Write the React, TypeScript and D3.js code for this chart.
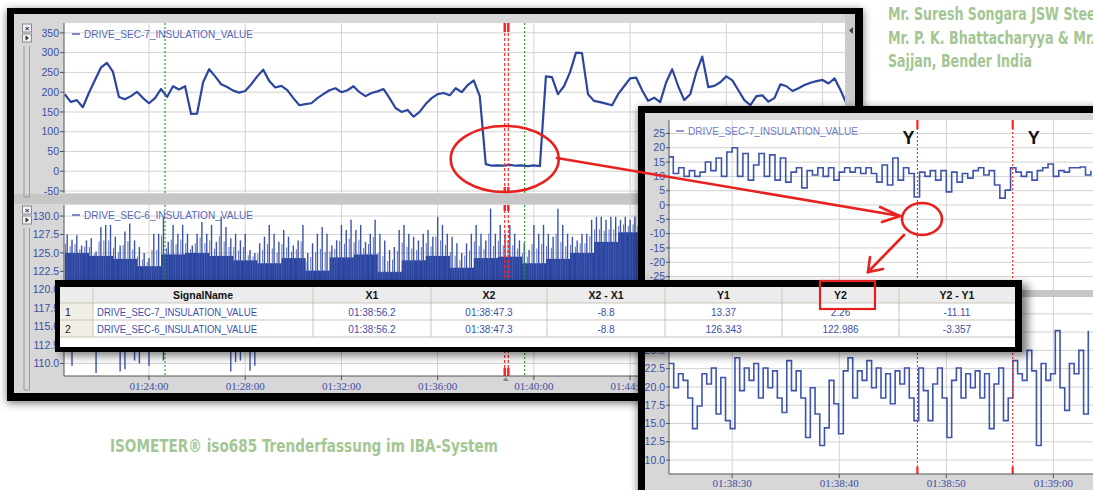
import React from "react";
import * as d3 from "d3";

// ---------- DATA ----------
const overviewStart = "01:20:30";
const overviewEnd = "01:52:56";
const sec7OverviewStepSec = 15;
const sec7Overview = [
  195, 175, 180, 162, 198, 230, 262, 274, 252, 188, 182, 190, 201, 185, 172, 185, 208, 188, 215, 207,
  215, 145, 146, 225, 258, 240, 220, 213, 204, 199, 203, 220, 240, 257, 228, 212, 216, 205, 185, 167,
  170, 172, 185, 195, 205, 210, 200, 205, 215, 200, 190, 198, 202, 208, 185, 160, 150, 155, 138, 150,
  170, 185, 195, 198, 192, 210, 200, 218, 230, 190, 18, 14, 15, 14, 16, 14, 15, 13, 15, 13,
  240, 238, 195, 215, 250, 300, 299, 195, 178, 175, 171, 167, 195, 215, 235, 237, 205, 178, 186, 175,
  225, 258, 215, 180, 195, 250, 290, 213, 216, 225, 240, 230, 205, 180, 167, 190, 192, 176, 185, 220,
  215, 203, 210, 218, 224, 228, 231, 222, 235, 205, 170,
];

const sec6BinSec = 12;
const sec6Max = [
  127.5, 126.8, 127.4, 126.0, 126.7, 127.0, 125.2, 128.5, 128.8, 128.8,
  127.2, 126.0, 127.9, 129.0, 126.7, 125.8, 125.0, 124.3, 127.6, 127.6,
  129.9, 126.5, 128.8, 127.6, 128.8, 127.6, 126.0, 127.6, 129.2, 127.6,
  128.8, 126.5, 129.9, 128.5, 127.0, 127.6, 126.7, 127.6, 125.4, 125.0,
  126.3, 127.2, 128.8, 127.6, 126.5, 128.1, 127.2, 126.0, 126.7, 128.8,
  125.0, 126.3, 127.6, 128.5, 127.6, 126.0, 126.7, 128.8, 128.1, 129.5,
  128.1, 128.8, 126.5, 127.6, 129.5, 127.6, 126.7, 125.4, 125.8, 128.1,
  128.8, 127.6, 127.2, 126.7, 127.6, 128.1, 127.2, 129.9, 128.8, 127.6,
  127.2, 126.3, 125.0, 126.3, 127.6, 128.8, 127.6, 126.7, 131.0, 127.6,
  128.8, 127.6, 128.8, 127.6, 126.7, 126.3, 125.4, 128.8, 127.6, 128.8,
  127.6, 127.2, 131.0, 128.8, 127.6, 127.2, 126.7, 127.6, 127.6, 129.5,
  129.9, 129.9, 129.5, 129.9, 129.9, 129.5, 129.9, 129.5, 129.9, 129.5,
];
const sec6Min = [
  119, 109.7, 119, 119, 119, 119, 108.7, 119, 119, 119,
  119, 108.9, 109.2, 119, 110.4, 110.0, 119, 109.7, 119, 119,
  110.4, 119, 119, 119, 119, 119, 119, 119, 119, 119,
  119, 119, 119, 119, 108.9, 110.2, 110.4, 119, 109.0, 109.7,
  119, 119, 119, 119, 119, 119, 119, 119, 119, 119,
  119, 119, 119, 119, 119, 119, 119, 119, 119, 119,
  119, 119, 119, 119, 119, 119, 119, 119, 119, 119,
  119, 119, 119, 119, 119, 119, 119, 119, 119, 119,
  119, 119, 111.6, 119, 119, 119, 119, 119, 119, 119,
  119, 119, 119, 119, 119, 119, 119, 119, 119, 119,
  119, 119, 119, 119, 119, 119, 119, 119, 119, 119,
  119, 119, 119, 119, 119, 119, 119, 119, 119, 119,
];
const sec6CoreMinuteTop = [
  125.0, 124.6, 124.2, 123.2, 124.8, 125.0, 124.6, 124.0, 123.6, 124.3, 122.6, 124.4,
  124.8, 122.4, 124.0, 124.6, 123.0, 124.3, 124.5, 123.6, 124.2, 125.0, 126.5, 127.8,
];
const sec6BandLow = 118.5;

const overviewTimeTicks = ["01:24:00", "01:28:00", "01:32:00", "01:36:00", "01:40:00", "01:44:00", "01:48:00", "01:52:00"];
const sec7OverviewTicks = [350, 300, 250, 200, 150, 100, 50, 0, -50];
const sec6OverviewTicks = [130, 127.5, 125, 122.5, 120, 117.5, 115, 112.5, 110];
const greenMarkers = ["01:24:40", "01:39:37"];
const cursorTimes = ["01:38:47.3", "01:38:56.2"];

const detailStart = "01:38:24";
const detailEnd = "01:39:03.7";
const sec7DetailStepSec = 0.5;
const sec7Detail = [
  16.8, 11, 13, 10, 12, 10, 11.5, 15, 12, 16.4, 10, 18.5, 20, 10, 18, 8.7, 14, 18, 10, 17.5,
  8.7, 16.4, 8, 11.5, 13, 6, 12, 10.5, 13, 10, 13, 8.7, 11.5, 13, 11.5, 13, 11, 13, 11, 8,
  14, 7, 16.4, 8.7, 13, 11, 2.8, 11.5, 10, 12, 8.7, 12, 4.6, 11.5, 8, 11, 9.4, 12, 13, 10.5,
  12, 7, 2.4, 5.2, 13, 11.5, 10, 11.5, 8.7, 12, 13, 14.3, 10, 12, 11.5, 13, 13, 13.3, 10.5, 12,
];
const sec6DetailStepSec = 0.44;
const sec6Detail = [
  23.2, 19.9, 21.8, 20.9, 18.5, 14.3, 17.4, 21.8, 20.4, 22.6, 16.3, 21.3, 15.4, 14.3, 24, 19.5, 22.6, 20.9,
  23.2, 18.5, 22.6, 19.9, 22.2, 18.5, 16.5, 23.6, 19.5, 22.2, 18.5, 13.1, 19.9, 16.3, 12, 14.4, 20.9, 17.7,
  13.6, 22.2, 24, 18.5, 22.2, 20.9, 23.6, 19.9, 22.6, 18.5, 21.8, 17.7, 22.2, 20.4, 22.6, 18.5, 15.4, 22.6,
  19.5, 15.4, 20.4, 22.6, 18.5, 13.1, 20.9, 22.6, 18.5, 21.8, 19.9, 22.2, 18.5, 21.8, 14.3, 20.4, 22.6, 15.4,
  18.5, 23.6, 21.8, 20.9, 25, 22.2, 12, 23.2, 20.9, 21.8, 27.7, 19.9, 16.8, 23.2, 21.8, 25, 16.3, 27.7,
];
const detailTimeTicks = ["01:38:30", "01:38:40", "01:38:50", "01:39:00"];
const sec7DetailTicks = [25, 20, 15, 10, 5, 0, -5, -10, -15, -20, -25];
const sec6DetailTicks = [10, 12.5, 15, 17.5, 20, 22.5, 25, 27.5, 30];

const tableColumns = ["SignalName", "X1", "X2", "X2 - X1", "Y1", "Y2", "Y2 - Y1"];
const tableRows = [
  ["DRIVE_SEC-7_INSULATION_VALUE", "01:38:56.2", "01:38:47.3", "-8.8", "13.37", "2.26", "-11.11"],
  ["DRIVE_SEC-6_INSULATION_VALUE", "01:38:56.2", "01:38:47.3", "-8.8", "126.343", "122.986", "-3.357"],
];
const sec7Name = "DRIVE_SEC-7_INSULATION_VALUE";
const sec6Name = "DRIVE_SEC-6_INSULATION_VALUE";
const authorLines = ["Mr. Suresh Songara JSW Steel", "Mr. P. K. Bhattacharyya & Mr.", "Sajjan, Bender India"];
const caption = "ISOMETER\u00AE iso685 Trenderfassung im IBA-System";

// ---------- helpers ----------
const toDate = (s: string) => {
  const [h, m, sec] = s.split(":");
  return new Date(2000, 0, 1, +h, +m, 0, Math.round(parseFloat(sec) * 1000));
};
const addSec = (d: Date, s: number) => new Date(d.getTime() + s * 1000);
const fmt = d3.timeFormat("%H:%M:%S");

const SANS = "'Liberation Sans', Arial, sans-serif";
const SERIF = "'Liberation Serif', 'Times New Roman', serif";
const AXIS_TXT = "#3b4ea6";
const LINE = "#2c46a0";
const GRID = "#d2d2d2";
const PANEL = "#d7d7d7";
const BAND = "#c6c6c6";
const RED = "#ff2424";
const GREEN_TXT = "#a4c693";

export default function App() {
  // overview scales
  const t0O = toDate(overviewStart);
  const xO = d3.scaleTime().domain([t0O, toDate(overviewEnd)]).range([64.8, 845]);
  const yO7 = d3.scaleLinear().domain([-55, 375]).range([193, 23]);
  const yO6 = d3.scaleLinear().domain([108.3, 131.5]).range([376, 205]);
  // detail scales
  const t0D = toDate(detailStart);
  const xD = d3.scaleTime().domain([toDate("01:38:24.1"), toDate(detailEnd)]).range([669, 1093]);
  const yD7 = d3.scaleLinear().domain([-29.7, 29.7]).range([290, 120]);
  const yD6 = d3.scaleLinear().domain([8.1, 32.3]).range([474, 297]);

  const lineO7 = d3
    .line<number>()
    .x((_, i) => xO(addSec(t0O, i * sec7OverviewStepSec)))
    .y((d) => yO7(d));
  const lineD7 = d3
    .line<number>()
    .curve(d3.curveStepAfter)
    .x((_, i) => xD(addSec(t0D, i * sec7DetailStepSec)))
    .y((d) => yD7(d));
  const lineD6 = d3
    .line<number>()
    .curve(d3.curveStepAfter)
    .x((_, i) => xD(addSec(toDate("01:38:24.1"), i * sec6DetailStepSec)))
    .y((d) => yD6(d));

  const oTop = { x: 64, y: 23, w: 781, h: 170 };
  const oBot = { x: 64, y: 205, w: 781, h: 171 };
  const dTop = { x: 669, y: 120, w: 430, h: 170 };
  const dBot = { x: 669, y: 297, w: 430, h: 177 };

  const vGrid = (ticks: string[], xs: any, y1: number, y2: number, key: string) =>
    ticks.map((t) => (
      <line key={key + t} x1={xs(toDate(t))} x2={xs(toDate(t))} y1={y1} y2={y2} stroke={GRID} strokeWidth={1} />
    ));
  const hGrid = (ticks: number[], ys: any, x1: number, x2: number, key: string) =>
    ticks.map((v) => <line key={key + v} x1={x1} x2={x2} y1={ys(v)} y2={ys(v)} stroke={GRID} strokeWidth={1} />);
  const yLabels = (ticks: number[], ys: any, x: number, key: string, dec: number) =>
    ticks.map((v) => (
      <g key={key + v}>
        <line x1={x + 1} x2={x + 5} y1={ys(v)} y2={ys(v)} stroke="#555" />
        <text x={x} y={ys(v)} dy="0.35em" textAnchor="end" fontFamily={SANS} fontSize={10.5} fill={AXIS_TXT}>
          {dec ? v.toFixed(dec) : String(v)}
        </text>
      </g>
    ));

  const controls = (y: number, y2: number) => (
    <g>
      <rect x={22.5} y={y} width={9} height={8} fill="#f2f2f2" stroke="#8a8a8a" />
      <text x={27} y={y + 7} textAnchor="middle" fontFamily={SANS} fontSize={8} fontWeight="bold" fill="#333">
        ×
      </text>
      <rect x={22.5} y={y + 10} width={9} height={8} fill="#f2f2f2" stroke="#8a8a8a" />
      <path d={`M25.5,${y + 11.5} L29,${y + 14} L25.5,${y + 16.5} Z`} fill="#333" />
      <line x1={24} x2={24} y1={y + 22} y2={y2} stroke="#9a9a9a" />
      <line x1={29.5} x2={29.5} y1={y + 22} y2={y2} stroke="#9a9a9a" />
      <line x1={24} x2={29.5} y1={y2} y2={y2} stroke="#9a9a9a" />
    </g>
  );

  return (
    <svg
      width={1093}
      height={490}
      style={{ position: "absolute", left: 0, top: 0, background: "#fff" }}
      xmlns="http://www.w3.org/2000/svg"
    >
      <defs>
        <clipPath id="cOT"><rect x={oTop.x} y={oTop.y} width={oTop.w} height={oTop.h} /></clipPath>
        <clipPath id="cOB"><rect x={oBot.x} y={oBot.y} width={oBot.w} height={oBot.h} /></clipPath>
        <clipPath id="cDT"><rect x={dTop.x} y={dTop.y} width={dTop.w} height={dTop.h} /></clipPath>
        <clipPath id="cDB"><rect x={dBot.x} y={dBot.y} width={dBot.w} height={dBot.h} /></clipPath>
        <filter id="sh" x="-10%" y="-10%" width="120%" height="130%">
          <feDropShadow dx={0} dy={2} stdDeviation={4} floodColor="#000" floodOpacity={0.55} />
        </filter>
        <filter id="shT" x="-5%" y="-20%" width="115%" height="150%">
          <feDropShadow dx={6} dy={4} stdDeviation={4} floodColor="#000" floodOpacity={0.5} />
        </filter>
      </defs>

      {/* ===== LEFT WINDOW (overview) ===== */}
      <g>
        <rect x={7} y={8} width={856} height={393} fill="#000" filter="url(#sh)" />
        <rect x={14} y={14} width={841} height={379} fill={PANEL} />
        <rect x={oTop.x} y={oTop.y} width={oTop.w} height={oTop.h} fill="#fff" />
        <rect x={oBot.x} y={oBot.y} width={oBot.w} height={oBot.h} fill="#fff" />
        <rect x={14} y={194} width={841} height={10} fill={BAND} />
        <rect x={845} y={14} width={10} height={379} fill="#cbcbcb" />
        <path d="M853,27 L849,30.5 L853,34 Z" fill="#444" />
        {controls(24, 197)}
        {controls(206, 390)}

        {/* grids */}
        {hGrid(sec7OverviewTicks, yO7, oTop.x, oTop.x + oTop.w, "g7")}
        {vGrid(overviewTimeTicks, xO, oTop.y, oTop.y + oTop.h, "v7")}
        {hGrid(sec6OverviewTicks, yO6, oBot.x, oBot.x + oBot.w, "g6")}
        {vGrid(overviewTimeTicks, xO, oBot.y, oBot.y + oBot.h, "v6")}

        {/* SEC-6 dense band */}
        <g clipPath="url(#cOB)">
          {sec6Max.map((mx, i) => {
            const a = addSec(t0O, i * sec6BinSec);
            const b = addSec(t0O, (i + 1) * sec6BinSec);
            const x0 = xO(a);
            const x1 = xO(b);
            const core = sec6CoreMinuteTop[Math.floor((i * sec6BinSec) / 60)];
            const xc = (x0 + x1) / 2;
            return (
              <g key={"b" + i}>
                <rect x={x0} y={yO6(core)} width={x1 - x0 + 0.3} height={yO6(sec6BandLow) - yO6(core)} fill={LINE} />
                <line x1={xc} x2={xc} y1={yO6(sec6Min[i])} y2={yO6(mx)} stroke="#3a52ab" strokeWidth={1.4} />
                <line x1={x0 + 0.6} x2={x0 + 0.6} y1={yO6(core)} y2={yO6((mx + core) / 2)} stroke="#5a6fc0" strokeWidth={1} />
              </g>
            );
          })}
        </g>

        {/* SEC-7 line */}
        <g clipPath="url(#cOT)">
          <path d={lineO7(sec7Overview) || ""} fill="none" stroke={LINE} strokeWidth={2.2} strokeLinejoin="round" />
        </g>

        {/* markers */}
        {greenMarkers.map((t) => (
          <g key={"gm" + t}>
            <line x1={xO(toDate(t))} x2={xO(toDate(t))} y1={oTop.y} y2={oTop.y + oTop.h} stroke="#27a327" strokeWidth={1.2} strokeDasharray="2,2" />
            <line x1={xO(toDate(t))} x2={xO(toDate(t))} y1={oBot.y} y2={oBot.y + oBot.h} stroke="#27a327" strokeWidth={1.2} strokeDasharray="2,2" />
          </g>
        ))}
        {cursorTimes.map((t) => {
          const x = xO(toDate(t));
          return (
            <g key={"cm" + t}>
              <line x1={x} x2={x} y1={oTop.y} y2={oTop.y + oTop.h} stroke={RED} strokeWidth={1.2} strokeDasharray="3,2" />
              <line x1={x} x2={x} y1={oBot.y} y2={oBot.y + oBot.h} stroke={RED} strokeWidth={1.2} strokeDasharray="3,2" />
              <line x1={x} x2={x} y1={oTop.y} y2={oTop.y + 9} stroke={RED} strokeWidth={2.5} />
              <line x1={x} x2={x} y1={oTop.y + oTop.h - 6} y2={oTop.y + oTop.h} stroke={RED} strokeWidth={2.5} />
              <line x1={x} x2={x} y1={oBot.y} y2={oBot.y + 6} stroke={RED} strokeWidth={2.5} />
              <line x1={x} x2={x} y1={oBot.y + oBot.h - 8} y2={oBot.y + oBot.h} stroke={RED} strokeWidth={2.5} />
            </g>
          );
        })}

        {/* axes */}
        <line x1={64} x2={64} y1={oTop.y} y2={oTop.y + oTop.h} stroke="#555" />
        <line x1={64} x2={64} y1={oBot.y} y2={oBot.y + oBot.h} stroke="#555" />
        <line x1={64} x2={845} y1={376} y2={376} stroke="#555" />
        {yLabels(sec7OverviewTicks, yO7, 59, "l7", 0)}
        {yLabels(sec6OverviewTicks, yO6, 59, "l6", 1)}
        {overviewTimeTicks.map((t) => (
          <g key={"ot" + t}>
            <line x1={xO(toDate(t))} x2={xO(toDate(t))} y1={376} y2={380} stroke="#555" />
            <text x={xO(toDate(t))} y={390} textAnchor="middle" fontFamily={SERIF} fontSize={11} fill={AXIS_TXT}>
              {t}
            </text>
          </g>
        ))}
        <path d={`M${xO(toDate(cursorTimes[0])) - 2},381 l3,-4 l3,4 Z`} fill="#888" />

        {/* legends */}
        <line x1={72} x2={80} y1={34} y2={34} stroke="#5565b8" strokeWidth={1.5} />
        <text x={84} y={38} fontFamily={SANS} fontSize={10.5} fill="#5565b8" textLength={169} lengthAdjust="spacingAndGlyphs">
          {sec7Name}
        </text>
        <line x1={72} x2={80} y1={215} y2={215} stroke="#5565b8" strokeWidth={1.5} />
        <text x={84} y={219} fontFamily={SANS} fontSize={10.5} fill="#5565b8" textLength={169} lengthAdjust="spacingAndGlyphs">
          {sec6Name}
        </text>
      </g>

      {/* ===== RIGHT WINDOW (detail) ===== */}
      <g>
        <rect x={638} y={106} width={470} height={400} fill="#000" filter="url(#sh)" />
        <rect x={645} y={113} width={460} height={390} fill={PANEL} />
        <rect x={dTop.x} y={dTop.y} width={dTop.w} height={dTop.h} fill="#fff" />
        <rect x={dBot.x} y={dBot.y} width={dBot.w} height={dBot.h} fill="#fff" />
        <rect x={645} y={290} width={460} height={7} fill={BAND} />

        {hGrid(sec7DetailTicks, yD7, dTop.x, 1093, "dg7")}
        {vGrid(detailTimeTicks, xD, dTop.y, dTop.y + dTop.h, "dv7")}
        {hGrid(sec6DetailTicks, yD6, dBot.x, 1093, "dg6")}
        {vGrid(detailTimeTicks, xD, dBot.y, dBot.y + dBot.h, "dv6")}

        <g clipPath="url(#cDT)">
          <path d={lineD7(sec7Detail) || ""} fill="none" stroke="#3e55ad" strokeWidth={1.6} />
        </g>
        <g clipPath="url(#cDB)">
          <path d={lineD6(sec6Detail) || ""} fill="none" stroke="#3e55ad" strokeWidth={1.6} />
        </g>

        {cursorTimes.map((t) => {
          const x = xD(toDate(t));
          return (
            <g key={"dc" + t}>
              <line x1={x} x2={x} y1={dTop.y} y2={dTop.y + dTop.h} stroke={RED} strokeWidth={1.1} strokeDasharray="2,2" />
              <line x1={x} x2={x} y1={dBot.y} y2={dBot.y + dBot.h} stroke={RED} strokeWidth={1.1} strokeDasharray="2,2" />
              <line x1={x} x2={x} y1={dTop.y} y2={dTop.y + 9} stroke={RED} strokeWidth={2.2} />
              <line x1={x} x2={x} y1={dBot.y + dBot.h - 7} y2={dBot.y + dBot.h} stroke={RED} strokeWidth={2.2} />
            </g>
          );
        })}

        <line x1={669} x2={669} y1={dTop.y} y2={dTop.y + dTop.h} stroke="#555" />
        <line x1={669} x2={669} y1={dBot.y} y2={dBot.y + dBot.h} stroke="#555" />
        <line x1={669} x2={1093} y1={474} y2={474} stroke="#555" />
        {yLabels(sec7DetailTicks, yD7, 665, "dl7", 0)}
        {yLabels(sec6DetailTicks, yD6, 665, "dl6", 1)}
        {detailTimeTicks.map((t) => (
          <g key={"dt" + t}>
            <line x1={xD(toDate(t))} x2={xD(toDate(t))} y1={474} y2={478} stroke="#555" />
            <text x={xD(toDate(t))} y={487} textAnchor="middle" fontFamily={SERIF} fontSize={11} fill={AXIS_TXT}>
              {fmt(toDate(t))}
            </text>
          </g>
        ))}
        <line x1={676} x2={684} y1={131} y2={131} stroke="#6f7cc6" strokeWidth={1.5} />
        <text x={688} y={135} fontFamily={SANS} fontSize={10.5} fill="#6f7cc6" textLength={170} lengthAdjust="spacingAndGlyphs">
          {sec7Name}
        </text>
        {cursorTimes.map((t, i) => (
          <text key={"Y" + i} x={xD(toDate(t)) + (i === 0 ? -9 : 21)} y={144} textAnchor="middle" fontFamily={SANS} fontSize={18} fontWeight="bold" fill="#111">
            Y
          </text>
        ))}
      </g>

      {/* ===== TABLE ===== */}
      <g>
        <rect x={55} y={280} width={967} height={72} fill="#000" filter="url(#shT)" />
        <rect x={60} y={287} width={955} height={60} fill="#fff" />
        <rect x={60} y={287} width={955} height={16} fill="#ececec" />
        <rect x={60} y={303} width={33} height={34} fill="#f1efe5" />
        {(() => {
          const bounds = [60, 93, 313, 431, 547, 665, 782, 899, 1015];
          const els: any[] = [];
          bounds.slice(1, -1).forEach((b, i) =>
            els.push(<line key={"cb" + i} x1={b} x2={b} y1={287} y2={337} stroke="#c9c5b8" />)
          );
          [303, 320, 337].forEach((y) =>
            els.push(<line key={"rb" + y} x1={60} x2={1015} y1={y} y2={y} stroke="#c9c5b8" />)
          );
          tableColumns.forEach((c, i) => {
            const cx = (bounds[i + 1] + bounds[i + 2]) / 2;
            els.push(
              <text key={"h" + c} x={cx} y={299} textAnchor="middle" fontFamily={SANS} fontSize={10.5} fontWeight="bold" fill="#111">
                {c}
              </text>
            );
          });
          tableRows.forEach((row, r) => {
            const y = 316 + r * 17;
            els.push(
              <text key={"n" + r} x={65} y={y} fontFamily={SANS} fontSize={10.5} fill="#222">
                {String(r + 1)}
              </text>
            );
            row.forEach((cell, i) => {
              if (i === 0) {
                els.push(
                  <text key={"c" + r + i} x={97} y={y} fontFamily={SANS} fontSize={10.5} fill="#3d4faa" textLength={160} lengthAdjust="spacingAndGlyphs">
                    {cell}
                  </text>
                );
              } else {
                const cx = (bounds[i + 1] + bounds[i + 2]) / 2;
                els.push(
                  <text key={"c" + r + i} x={cx} y={y} textAnchor="middle" fontFamily={SANS} fontSize={10} fill="#3d4faa">
                    {cell}
                  </text>
                );
              }
            });
          });
          return els;
        })()}
        <rect x={820} y={281} width={55} height={28} fill="none" stroke="#e3201f" strokeWidth={2.2} />
      </g>

      {/* ===== ANNOTATIONS ===== */}
      <g stroke="#e8211f" fill="none" strokeWidth={2.6} strokeLinecap="round">
        <ellipse cx={xO(toDate(cursorTimes[0]))} cy={159} rx={54} ry={33} />
        <line x1={557} y1={158} x2={900} y2={216} />
        <path d="M880,207 L900,216 L882,222" />
        <ellipse cx={922} cy={219} rx={20} ry={16} />
        <line x1={904} y1={235} x2={868} y2={272} />
        <path d="M870,257 L868,272 L883,269" />
      </g>

      {/* ===== TEXTS ===== */}
      {authorLines.map((s, i) => (
        <text
          key={"a" + i}
          x={888}
          y={20 + i * 23.5}
          fontFamily="'DejaVu Sans Condensed', 'Liberation Sans Narrow', sans-serif"
          fontWeight="bold"
          fontSize={17.5}
          fill={GREEN_TXT}
          textLength={i === 0 ? 212 : i === 1 ? 207 : 144}
          lengthAdjust="spacingAndGlyphs"
        >
          {s}
        </text>
      ))}
      <text
        x={110}
        y={452}
        fontFamily="'DejaVu Sans Condensed', 'Liberation Sans Narrow', sans-serif"
        fontWeight="bold"
        fontSize={17}
        fill={GREEN_TXT}
        textLength={388}
        lengthAdjust="spacingAndGlyphs"
      >
        {caption}
      </text>
    </svg>
  );
}
